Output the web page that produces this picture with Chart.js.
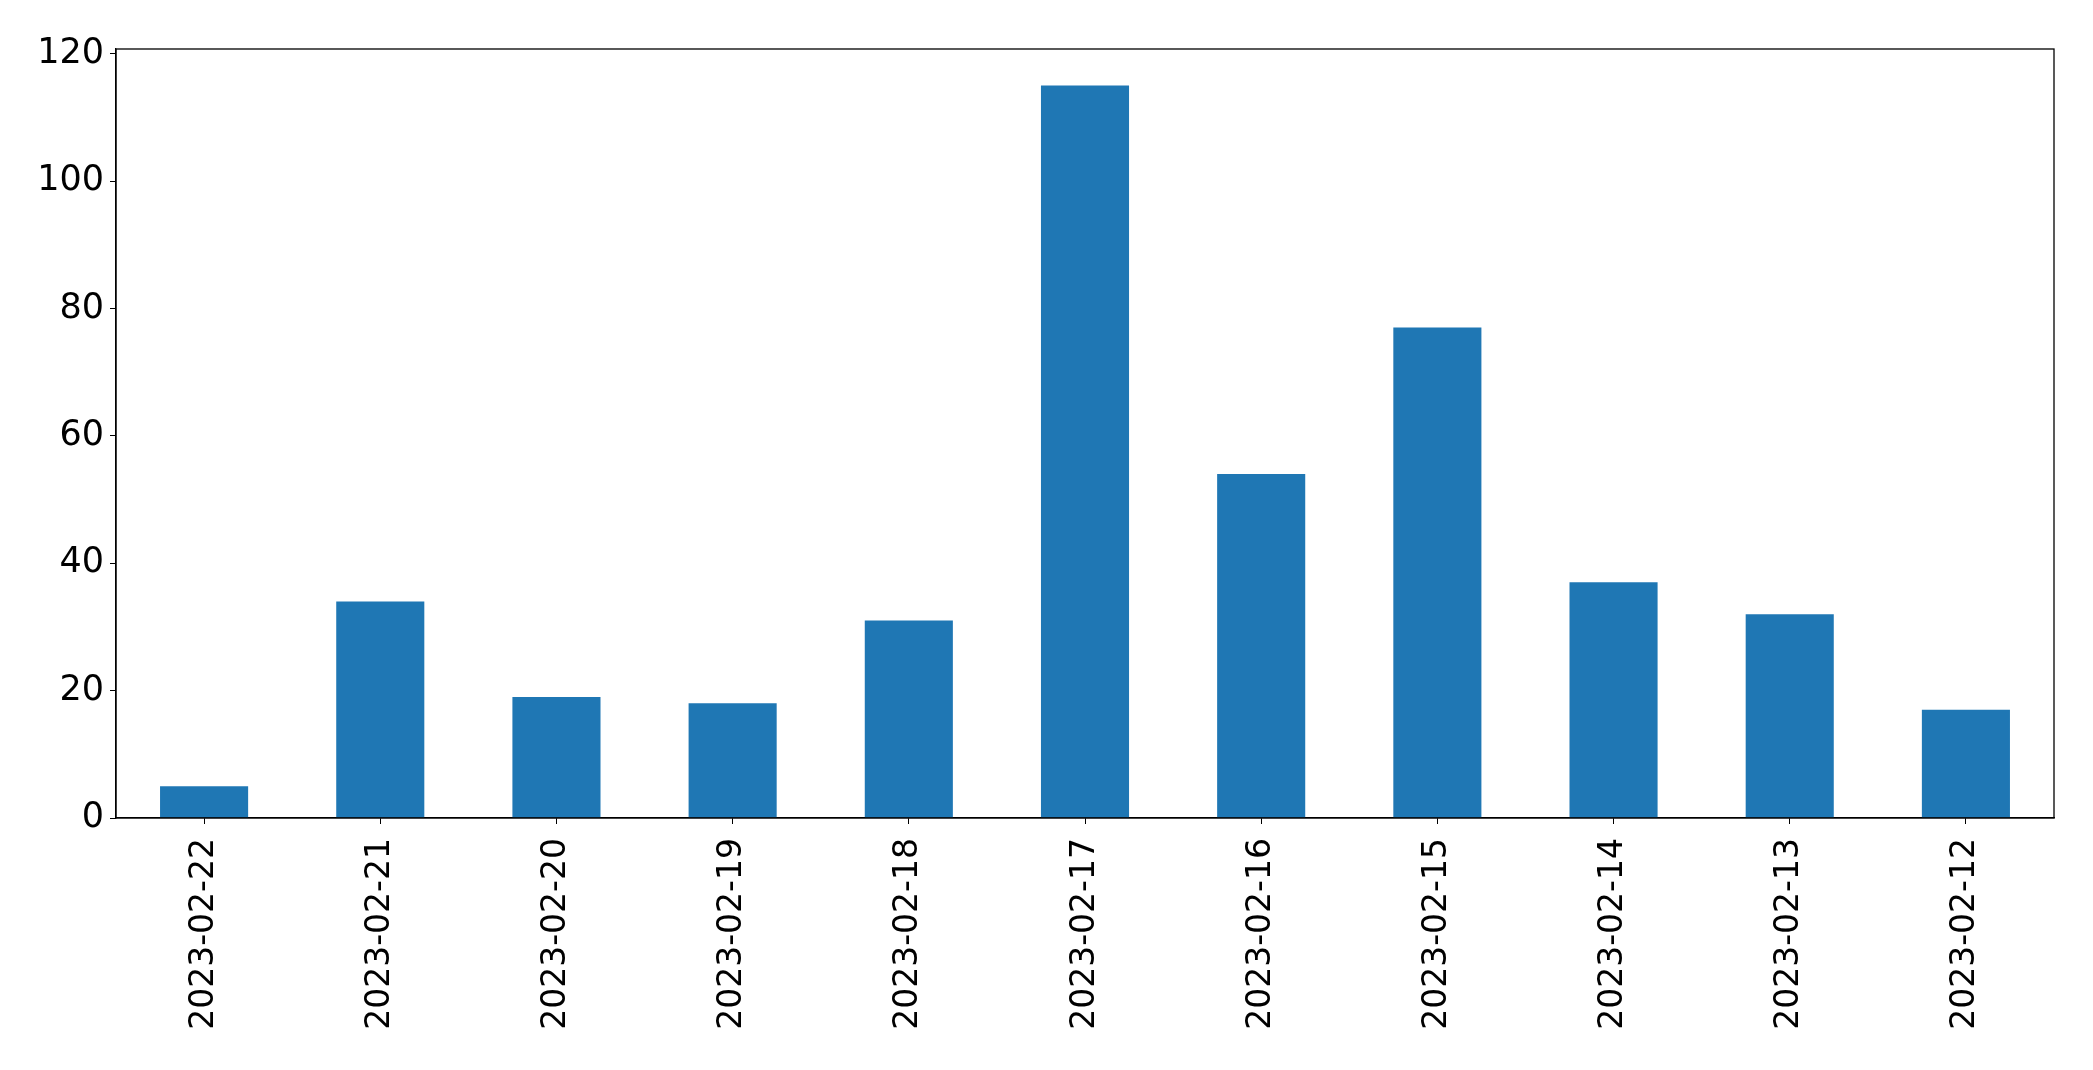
<!DOCTYPE html>
<html>
<head>
<meta charset="utf-8">
<script src="https://cdn.jsdelivr.net/npm/chart.js@4/dist/chart.umd.min.js"></script>
<style>
  html, body { margin: 0; padding: 0; background: #fff; }
  #wrap { width: 2093px; height: 1070px; }
</style>
</head>
<body>
<div id="wrap"><canvas id="dayChart" width="2093" height="1070"></canvas></div>
<script>
const dates = ['2023-02-22', '2023-02-21', '2023-02-20', '2023-02-19', '2023-02-18', '2023-02-17',
               '2023-02-16', '2023-02-15', '2023-02-14', '2023-02-13', '2023-02-12'];
const counts = [5, 34, 19, 18, 31, 115, 54, 77, 37, 32, 17];
const yTicks = [0, 20, 40, 60, 80, 100, 120];

// draw the top and right spines like matplotlib
const frameBox = {
    id: 'frameBox',
    afterDraw(chart) {
        const { ctx, chartArea: a } = chart;
        ctx.save();
        ctx.strokeStyle = '#000';
        ctx.lineWidth = 1.3;
        ctx.strokeRect(a.left, a.top, a.right - a.left, a.bottom - a.top);
        ctx.restore();
    }
};

Chart.defaults.font.family = '"DejaVu Sans", sans-serif';
Chart.defaults.color = '#000';

new Chart(document.getElementById('dayChart').getContext('2d'), {
    type: 'bar',
    data: {
        labels: dates,
        datasets: [{
            data: counts,
            backgroundColor: '#1f77b4',
            barPercentage: 0.5,
            categoryPercentage: 1.0
        }]
    },
    options: {
        responsive: false,
        animation: false,
        layout: { padding: { top: 49, right: 39, left: 0, bottom: 0 } },
        plugins: {
            legend: { display: false },
            tooltip: { enabled: false }
        },
        scales: {
            x: {
                offset: true,
                grid: { display: true, drawOnChartArea: false, tickLength: 6, tickColor: '#000', offset: false },
                border: { color: '#000', width: 1.3 },
                ticks: { minRotation: 90, maxRotation: 90, autoSkip: false, padding: 14, font: { size: 33 } },
                afterFit(scale) { scale.height = 1070 - 818; }
            },
            y: {
                min: 0,
                max: 120.75,
                afterBuildTicks(scale) { scale.ticks = yTicks.map(v => ({ value: v })); },
                grid: { display: true, drawOnChartArea: false, tickLength: 6, tickColor: '#000' },
                border: { color: '#000', width: 1.3 },
                ticks: { padding: 6, font: { size: 35 } },
                afterFit(scale) { scale.width = 116; }
            }
        }
    },
    plugins: [frameBox]
});
</script>
</body>
</html>
